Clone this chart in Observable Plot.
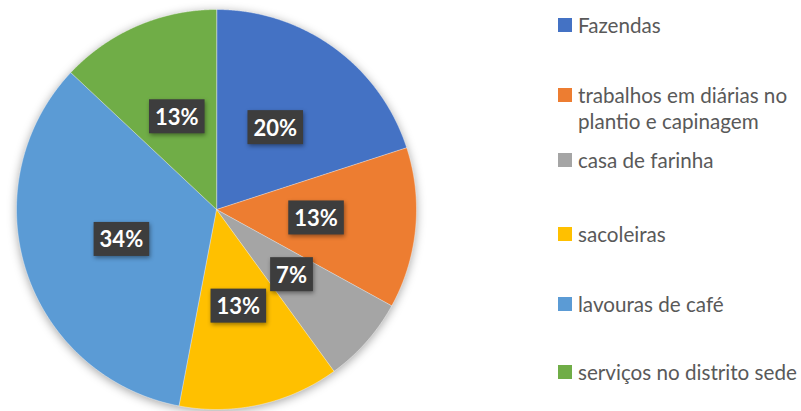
<!DOCTYPE html>
<html>
<head>
<meta charset="utf-8">
<script src="https://cdn.jsdelivr.net/npm/d3@7"></script>
<script src="https://cdn.jsdelivr.net/npm/@observablehq/plot@0.6"></script>
<style>
  html, body { margin: 0; padding: 0; background: #fff; }
  #wrap { position: relative; width: 801px; height: 411px; overflow: hidden; }
  #chart { position: absolute; left: 0; top: 0; }
  .leg { position: absolute; left: 558px; font-family: Lato, "Open Sans", sans-serif; color: #595959; white-space: nowrap; }
  .leg .sw { position: absolute; left: 0; width: 14px; height: 14px; }
  .leg .tx { position: absolute; left: 20px; }
</style>
</head>
<body>
<div id="wrap"><div id="chart"></div></div>
<script>
// ---- data ----
const categories = ["Fazendas", "trabalhos em diárias no plantio e capinagem", "casa de farinha", "sacoleiras", "lavouras de café", "serviços no distrito sede"];
const legendLines = [["Fazendas"], ["trabalhos em diárias no", "plantio e capinagem"], ["casa de farinha"], ["sacoleiras"], ["lavouras de café"], ["serviços no distrito sede"]];
const values = [20, 13, 7, 13, 34, 13];
const labels = ["20%", "13%", "7%", "13%", "34%", "13%"];
const colors = ["#4472C4", "#ED7D31", "#A5A5A5", "#FFC000", "#5B9BD5", "#70AD47"];

// ---- layout ----
const W = 440, H = 411, cx = 216, cy = 209, R = 200;
const legendCenters = [25, 95, 160, 234, 304, 372];

const arcs = d3.pie().sort(null).value(d => d)(values);
const slicePts = [];
arcs.forEach((a, i) => {
  slicePts.push({x: 0, y: 0, c: categories[i]});
  const n = Math.max(4, Math.ceil((a.endAngle - a.startAngle) / 0.005));
  for (let k = 0; k <= n; k++) {
    const t = a.startAngle + (a.endAngle - a.startAngle) * k / n;
    slicePts.push({x: Math.sin(t), y: Math.cos(t), c: categories[i]});
  }
});
const labelPts = arcs.map((a, i) => {
  const m = (a.startAngle + a.endAngle) / 2;
  return {x: 0.5 * Math.sin(m), y: 0.5 * Math.cos(m), t: labels[i]};
});

const plot = Plot.plot({
  width: W, height: H, margin: 0,
  x: {domain: [-cx / R, (W - cx) / R], range: [0, W], axis: null},
  y: {domain: [-(H - cy) / R, cy / R], range: [H, 0], axis: null},
  color: {domain: categories, range: colors},
  marks: [
    Plot.line(slicePts, {x: "x", y: "y", z: "c", fill: "c", stroke: "white", strokeWidth: 0.5, strokeOpacity: 0.8, curve: "linear-closed"}),
    Plot.text(labelPts, {x: "x", y: "y", text: "t", fill: "white", fontWeight: "bold", fontSize: 22, fontFamily: "Lato, 'Open Sans', sans-serif"})
  ]
});
document.getElementById("chart").appendChild(plot);
d3.select(plot).select('g[aria-label="line"]').style("filter", "drop-shadow(0px 2px 5px rgba(0,0,0,0.35))");

// label boxes
d3.select(plot).selectAll('g[aria-label="text"] text').each(function() {
  const b = this.getBBox();
  const tr = this.getAttribute("transform");
  const r = document.createElementNS("http://www.w3.org/2000/svg", "rect");
  const cxT = b.x + b.width / 2, cyT = b.y + b.height / 2;
  r.setAttribute("x", cxT - b.width / 2 - 6);
  r.setAttribute("y", cyT - 17);
  r.setAttribute("width", b.width + 12);
  r.setAttribute("height", 34);
  r.setAttribute("fill", "#3d3d3d");
  if (tr) r.setAttribute("transform", tr);
  r.style.filter = "drop-shadow(1px 2px 2px rgba(0,0,0,0.4))";
  this.parentNode.insertBefore(r, this);
});

// legend
const canvas = document.createElement("canvas").getContext("2d");
canvas.font = "22px Lato";
const fs = Math.min(22, 22 * 219 / canvas.measureText("serviços no distrito sede").width);
const wrap = document.getElementById("wrap");
legendLines.forEach((lines, i) => {
  const lh = 26;
  const item = document.createElement("div");
  item.className = "leg";
  item.style.top = (legendCenters[i] - lh / 2) + "px";
  item.style.fontSize = fs + "px";
  item.style.lineHeight = lh + "px";
  const sw = document.createElement("div");
  sw.className = "sw";
  sw.style.background = colors[i];
  sw.style.top = (lh / 2 - 7) + "px";
  item.appendChild(sw);
  const tx = document.createElement("div");
  tx.className = "tx";
  tx.innerHTML = lines.map(s => s.replace(/&/g, "&amp;")).join("<br>");
  item.appendChild(tx);
  wrap.appendChild(item);
});
</script>
</body>
</html>
